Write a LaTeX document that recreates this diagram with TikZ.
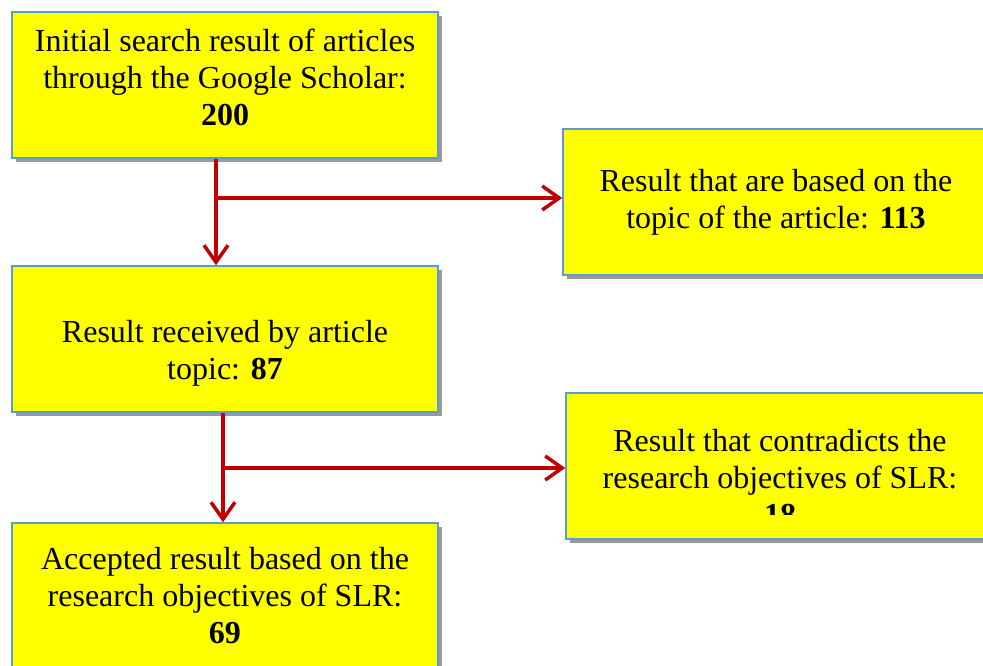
\documentclass[tikz,border=0pt]{standalone}
\usepackage{fontspec}
\setmainfont{Liberation Serif}
\usepackage{tikz}
\usetikzlibrary{shadows,arrows.meta,calc}
\definecolor{boxblue}{RGB}{91,155,213}
\definecolor{arrowred}{RGB}{192,0,0}
\definecolor{boxyellow}{RGB}{255,255,0}
\tikzstyle{arrow} = [-{Straight Barb[length=17pt,width=24pt,line width=3.5pt]}, draw=arrowred, line width=3.5pt]
\tikzstyle{stepbox} = [rectangle, draw=boxblue, line width=1.5pt, fill=boxyellow, minimum width=426pt, minimum height=146pt, align=center, font=\fontsize{32}{37}\selectfont, drop shadow={shadow xshift=4pt, shadow yshift=-4pt, fill=black, opacity=0.4}]

\begin{document}
\begin{tikzpicture}[x=1pt, y=1pt]
    \useasboundingbox (0,0) rectangle (983,-666);
    % Boxes
    \node[stepbox] (initial) at (225,-85) {Initial search result of articles\\through the Google Scholar:\\\textbf{200}\\[-21pt]\mbox{}};
    \node[stepbox] (based) at (776,-202) {Result that are based on the\\topic of the article: \textbf{113}};
    \node[stepbox] (topic) at (225,-339) {Result received by article\\topic: \textbf{87}\\[-59pt]\mbox{}};
    \node[stepbox] (contra) at (779,-466) {};
    \begin{scope}
        \clip (contra.north west) rectangle (983,-514);
        \node[align=center, font=\fontsize{32}{37}\selectfont] at (780,-478) {Result that contradicts the\\research objectives of SLR:\\\textbf{18}};
    \end{scope}
    \node[stepbox] (accepted) at (225,-596) {Accepted result based on the\\research objectives of SLR:\\\textbf{69}};

    % Junctions
    \coordinate (j1) at (216,-198);
    \coordinate (j2) at (223,-468);

    % Connectors
    \draw[arrow] (initial.south -| j1) -- (topic.north -| j1);
    \draw[arrow] (j1) -- (j1 -| based.west);
    \draw[arrow] (topic.south -| j2) -- (accepted.north -| j2);
    \draw[arrow] (j2) -- (j2 -| contra.west);
\end{tikzpicture}
\end{document}
